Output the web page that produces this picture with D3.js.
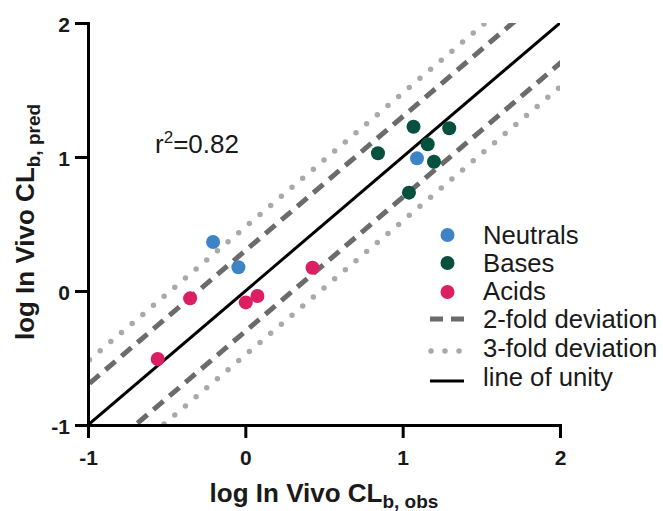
<!DOCTYPE html>
<html>
<head>
<meta charset="utf-8">
<script src="https://cdn.jsdelivr.net/npm/d3@7"></script>
<style>
  html, body { margin: 0; padding: 0; background: #fff; }
  svg { display: block; font-family: "Liberation Sans", Arial, Helvetica, sans-serif; }
</style>
</head>
<body>
<svg id="chart" width="663" height="511"></svg>
<script>
// ---- data ----
const neutralsX = [-0.205, -0.044, 1.091];
const neutralsY = [0.366, 0.177, 0.990];
const basesX = [1.069, 1.296, 0.843, 1.159, 1.199, 1.040];
const basesY = [1.226, 1.214, 1.028, 1.095, 0.965, 0.734];
const acidsX = [-0.351, -0.557, 0.003, 0.077, 0.427];
const acidsY = [-0.055, -0.507, -0.085, -0.037, 0.174];
const seriesNames = ["Neutrals", "Bases", "Acids"];
const seriesColors = ["#3d84c6", "#05503f", "#dc1f63"];
const xTicks = [-1, 0, 1, 2];
const yTicks = [-1, 0, 1, 2];
const tickLabels = ["-1", "0", "1", "2"];
const foldOffsets = [Math.log10(2), Math.log10(3)];
const lineLabels = ["2-fold deviation", "3-fold deviation", "line of unity"];
const r2Value = "0.82";

// ---- layout ----
const svg = d3.select("#chart");
const x = d3.scaleLinear().domain([-1, 2]).range([88, 560]);
const y = d3.scaleLinear().domain([-1, 2]).range([425, 23]);

const defs = svg.append("defs");
defs.append("clipPath").attr("id", "plotclip")
  .append("rect").attr("x", x(-1)).attr("y", y(2))
  .attr("width", x(2) - x(-1)).attr("height", y(-1) - y(2));

const styles = {
  dash: { stroke: "#6b6b6b", width: 5, dash: "13,8", cap: "butt" },
  dot: { stroke: "#a9a9a9", width: 5.5, dash: "0,14", cap: "round" },
  unity: { stroke: "#000", width: 3, dash: null, cap: "butt" }
};

const lines = svg.append("g").attr("clip-path", "url(#plotclip)");
function refLine(off, st) {
  const pts = [[-1.6, -1.6 + off], [2.6, 2.6 + off]];
  lines.append("path")
    .attr("d", d3.line().x(d => x(d[0])).y(d => y(d[1]))(pts))
    .attr("fill", "none")
    .attr("stroke", st.stroke)
    .attr("stroke-width", st.width)
    .attr("stroke-dasharray", st.dash)
    .attr("stroke-linecap", st.cap);
}
refLine(foldOffsets[1], styles.dot);
refLine(-foldOffsets[1], styles.dot);
refLine(foldOffsets[0], styles.dash);
refLine(-foldOffsets[0], styles.dash);
refLine(0, styles.unity);

// ---- axes ----
const axisFont = 21;
const xAxis = svg.append("g").attr("transform", `translate(0,${y(-1)})`)
  .call(d3.axisBottom(x).tickValues(xTicks).tickSize(13).tickSizeOuter(0).tickPadding(12)
    .tickFormat((d, i) => tickLabels[i]));
const yAxis = svg.append("g").attr("transform", `translate(${x(-1)},0)`)
  .call(d3.axisLeft(y).tickValues(yTicks).tickSize(13).tickSizeOuter(0).tickPadding(5)
    .tickFormat((d, i) => tickLabels[i]));
[xAxis, yAxis].forEach(g => {
  g.select(".domain").attr("stroke", "#000").attr("stroke-width", 3).attr("stroke-linecap", "square");
  g.selectAll(".tick line").attr("stroke", "#000").attr("stroke-width", 3);
  g.selectAll(".tick text").attr("fill", "#1a1a1a").attr("font-size", axisFont)
    .attr("font-weight", "bold").attr("font-family", "Liberation Sans, Arial, sans-serif");
});
yAxis.selectAll(".tick text").attr("dy", "0.4em");

// ---- points ----
const allSeries = [
  neutralsX.map((v, i) => [v, neutralsY[i]]),
  basesX.map((v, i) => [v, basesY[i]]),
  acidsX.map((v, i) => [v, acidsY[i]])
];
allSeries.forEach((pts, s) => {
  svg.append("g").selectAll("circle").data(pts).join("circle")
    .attr("cx", d => x(d[0])).attr("cy", d => y(d[1])).attr("r", 7)
    .attr("fill", seriesColors[s]);
});

// ---- axis titles ----
function axisTitle(g, sub) {
  const t = g.append("text").attr("text-anchor", "middle").attr("font-weight", "bold")
    .attr("fill", "#1a1a1a");
  t.append("tspan").attr("font-size", 26).text("log In Vivo CL");
  t.append("tspan").attr("font-size", 19).attr("dy", 6).text(sub);
  return t;
}
axisTitle(svg.append("g").attr("transform", `translate(${(x(-1) + x(2)) / 2},502)`), "b, obs");
axisTitle(svg.append("g").attr("transform", `translate(34,222) rotate(-90)`), "b, pred");

// ---- r^2 ----
const r2 = svg.append("text").attr("x", 155).attr("y", 153).attr("font-size", 26).attr("fill", "#1a1a1a");
r2.append("tspan").text("r");
r2.append("tspan").attr("font-size", 17).attr("dy", -10).text("2");
r2.append("tspan").attr("dy", 10).text("=" + r2Value);

// ---- legend ----
const legTextX = 483, legSymX0 = 430, legSymX1 = 464;
const legBase = [244, 272, 300, 328, 357, 386];
const legSymY = [235, 263, 292, 319, 351, 381];
const legFont = 25.7;
const leg = svg.append("g");
seriesNames.forEach((name, i) => {
  leg.append("circle").attr("cx", (legSymX0 + legSymX1) / 2 + 0.5).attr("cy", legSymY[i]).attr("r", 7)
    .attr("fill", seriesColors[i]);
  leg.append("text").attr("x", legTextX).attr("y", legBase[i]).attr("font-size", legFont)
    .attr("fill", "#1a1a1a").text(name);
});
[styles.dash, styles.dot, styles.unity].forEach((st, j) => {
  const i = j + 3;
  leg.append("line").attr("x1", st.cap === "round" ? legSymX0 + 1 : legSymX0).attr("x2", legSymX1)
    .attr("y1", legSymY[i]).attr("y2", legSymY[i])
    .attr("stroke", st.stroke).attr("stroke-width", st.width)
    .attr("stroke-dasharray", st.dash).attr("stroke-linecap", st.cap);
  leg.append("text").attr("x", legTextX).attr("y", legBase[i]).attr("font-size", legFont)
    .attr("fill", "#1a1a1a").text(lineLabels[j]);
});
</script>
</body>
</html>
